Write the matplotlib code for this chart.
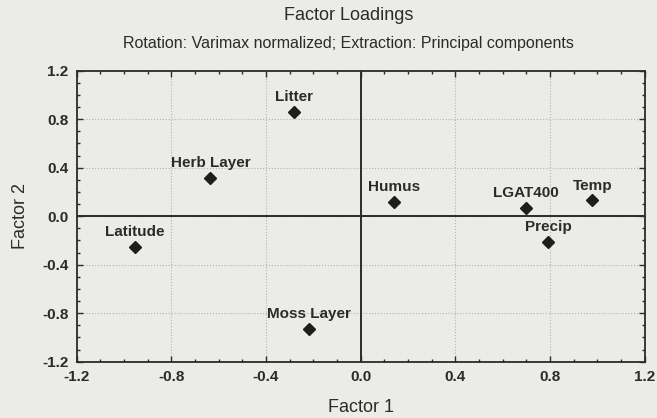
import matplotlib.pyplot as plt
from matplotlib.ticker import MultipleLocator

plt.rcParams['font.family'] = ['Liberation Sans', 'DejaVu Sans']

# factor loadings
variables = ['Litter', 'Herb Layer', 'Latitude', 'Moss Layer',
             'Humus', 'LGAT400', 'Temp', 'Precip']
factor1 = [-0.28, -0.635, -0.955, -0.218, 0.142, 0.698, 0.98, 0.794]
factor2 = [0.863, 0.315, -0.253, -0.929, 0.119, 0.068, 0.131, -0.212]

bg = '#ebebe8'
ink = '#2b2b2b'

fig = plt.figure(figsize=(6.57, 4.18), dpi=100, facecolor=bg)
ax = fig.add_axes([0.1167, 0.1347, 0.8643, 0.6963], facecolor=bg)

ax.set_xlim(-1.2, 1.2)
ax.set_ylim(-1.2, 1.2)

# faint dotted grid like the scanned original
ax.grid(True, which='major', linestyle=':', color='#a5a5a5', linewidth=0.8, alpha=0.8)
ax.set_axisbelow(True)

# zero lines
ax.axhline(0, color=ink, linewidth=1.4, zorder=2)
ax.axvline(0, color=ink, linewidth=1.4, zorder=2)

ax.plot(factor1, factor2, linestyle='none', marker='D', markersize=6.5,
        color='#1e1e1e', zorder=3)
for name, x, y in zip(variables, factor1, factor2):
    ax.annotate(name, (x, y), xytext=(0, 10.5), textcoords='offset points',
                ha='center', va='center', fontsize=11, color=ink,
                fontweight='bold')

ax.xaxis.set_major_locator(MultipleLocator(0.4))
ax.yaxis.set_major_locator(MultipleLocator(0.4))
ax.xaxis.set_minor_locator(MultipleLocator(0.1))
ax.yaxis.set_minor_locator(MultipleLocator(0.1))
ax.xaxis.set_major_formatter(plt.FuncFormatter(lambda v, p: '%.1f' % v))
ax.yaxis.set_major_formatter(plt.FuncFormatter(lambda v, p: '%.1f' % v))
ax.tick_params(which='both', direction='in', top=True, right=True,
               color=ink, width=1.0, labelsize=11, labelcolor=ink)
ax.tick_params(which='major', length=4, pad=6)
ax.tick_params(which='minor', length=2.5)
for lab in ax.get_xticklabels() + ax.get_yticklabels():
    lab.set_fontweight('bold')

for s in ax.spines.values():
    s.set_color(ink)
    s.set_linewidth(1.3)

ax.set_xlabel('Factor 1', fontsize=13, color=ink, labelpad=11)
ax.set_ylabel('Factor 2', fontsize=13, color=ink, labelpad=9)

fig.text(0.53, 0.962, 'Factor Loadings', ha='center', va='center',
         fontsize=13, color=ink)
fig.text(0.53, 0.897, 'Rotation: Varimax normalized; Extraction: Principal components',
         ha='center', va='center', fontsize=11.5, color=ink)

fig.savefig('out.png', dpi=100, facecolor=bg)
